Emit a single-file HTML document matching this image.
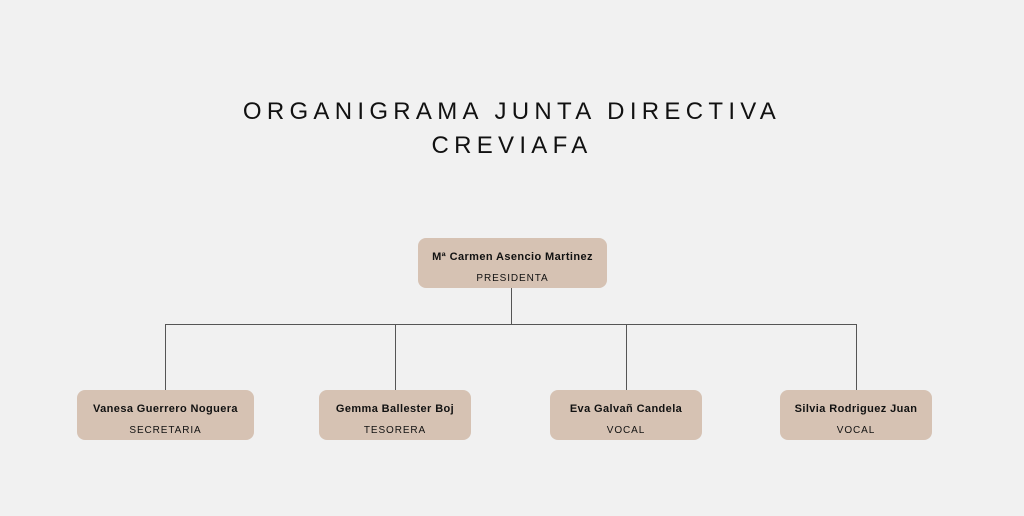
<!DOCTYPE html>
<html><head><style>
body{margin:0;width:1024px;height:516px;background:#f1f1f1;position:relative;overflow:hidden;font-family:"Liberation Sans",sans-serif;color:#111}
.t{position:absolute;left:0;width:1024px;text-align:center;font-size:24px;letter-spacing:5.3px;}
.b{position:absolute;background:#d6c2b3;border-radius:8px;text-align:center;}
.n{position:absolute;left:0;right:0;top:13px;font-size:11px;font-weight:bold;letter-spacing:0.4px}
.r{position:absolute;left:0;right:0;top:35px;font-size:10px;letter-spacing:0.9px}
.l{position:absolute;background:#555}
</style></head><body>
<div class="t" style="top:98px">ORGANIGRAMA JUNTA DIRECTIVA</div>
<div class="t" style="top:132px">CREVIAFA</div>
<div class="l" style="left:511px;top:288px;width:1px;height:36px"></div>
<div class="l" style="left:165px;top:324px;width:692px;height:1px"></div>
<div class="l" style="left:165px;top:324px;width:1px;height:66px"></div>
<div class="l" style="left:395px;top:324px;width:1px;height:66px"></div>
<div class="l" style="left:626px;top:324px;width:1px;height:66px"></div>
<div class="l" style="left:856px;top:324px;width:1px;height:66px"></div>
<div class="b" style="left:418px;top:238px;width:189px;height:50px"><div class="n">Mª Carmen Asencio Martinez</div><div class="r">PRESIDENTA</div></div>
<div class="b" style="left:77px;top:390px;width:177px;height:50px"><div class="n">Vanesa Guerrero Noguera</div><div class="r">SECRETARIA</div></div>
<div class="b" style="left:319px;top:390px;width:152px;height:50px"><div class="n">Gemma Ballester Boj</div><div class="r">TESORERA</div></div>
<div class="b" style="left:550px;top:390px;width:152px;height:50px"><div class="n">Eva Galvañ Candela</div><div class="r">VOCAL</div></div>
<div class="b" style="left:780px;top:390px;width:152px;height:50px"><div class="n">Silvia Rodriguez Juan</div><div class="r">VOCAL</div></div>
</body></html>
